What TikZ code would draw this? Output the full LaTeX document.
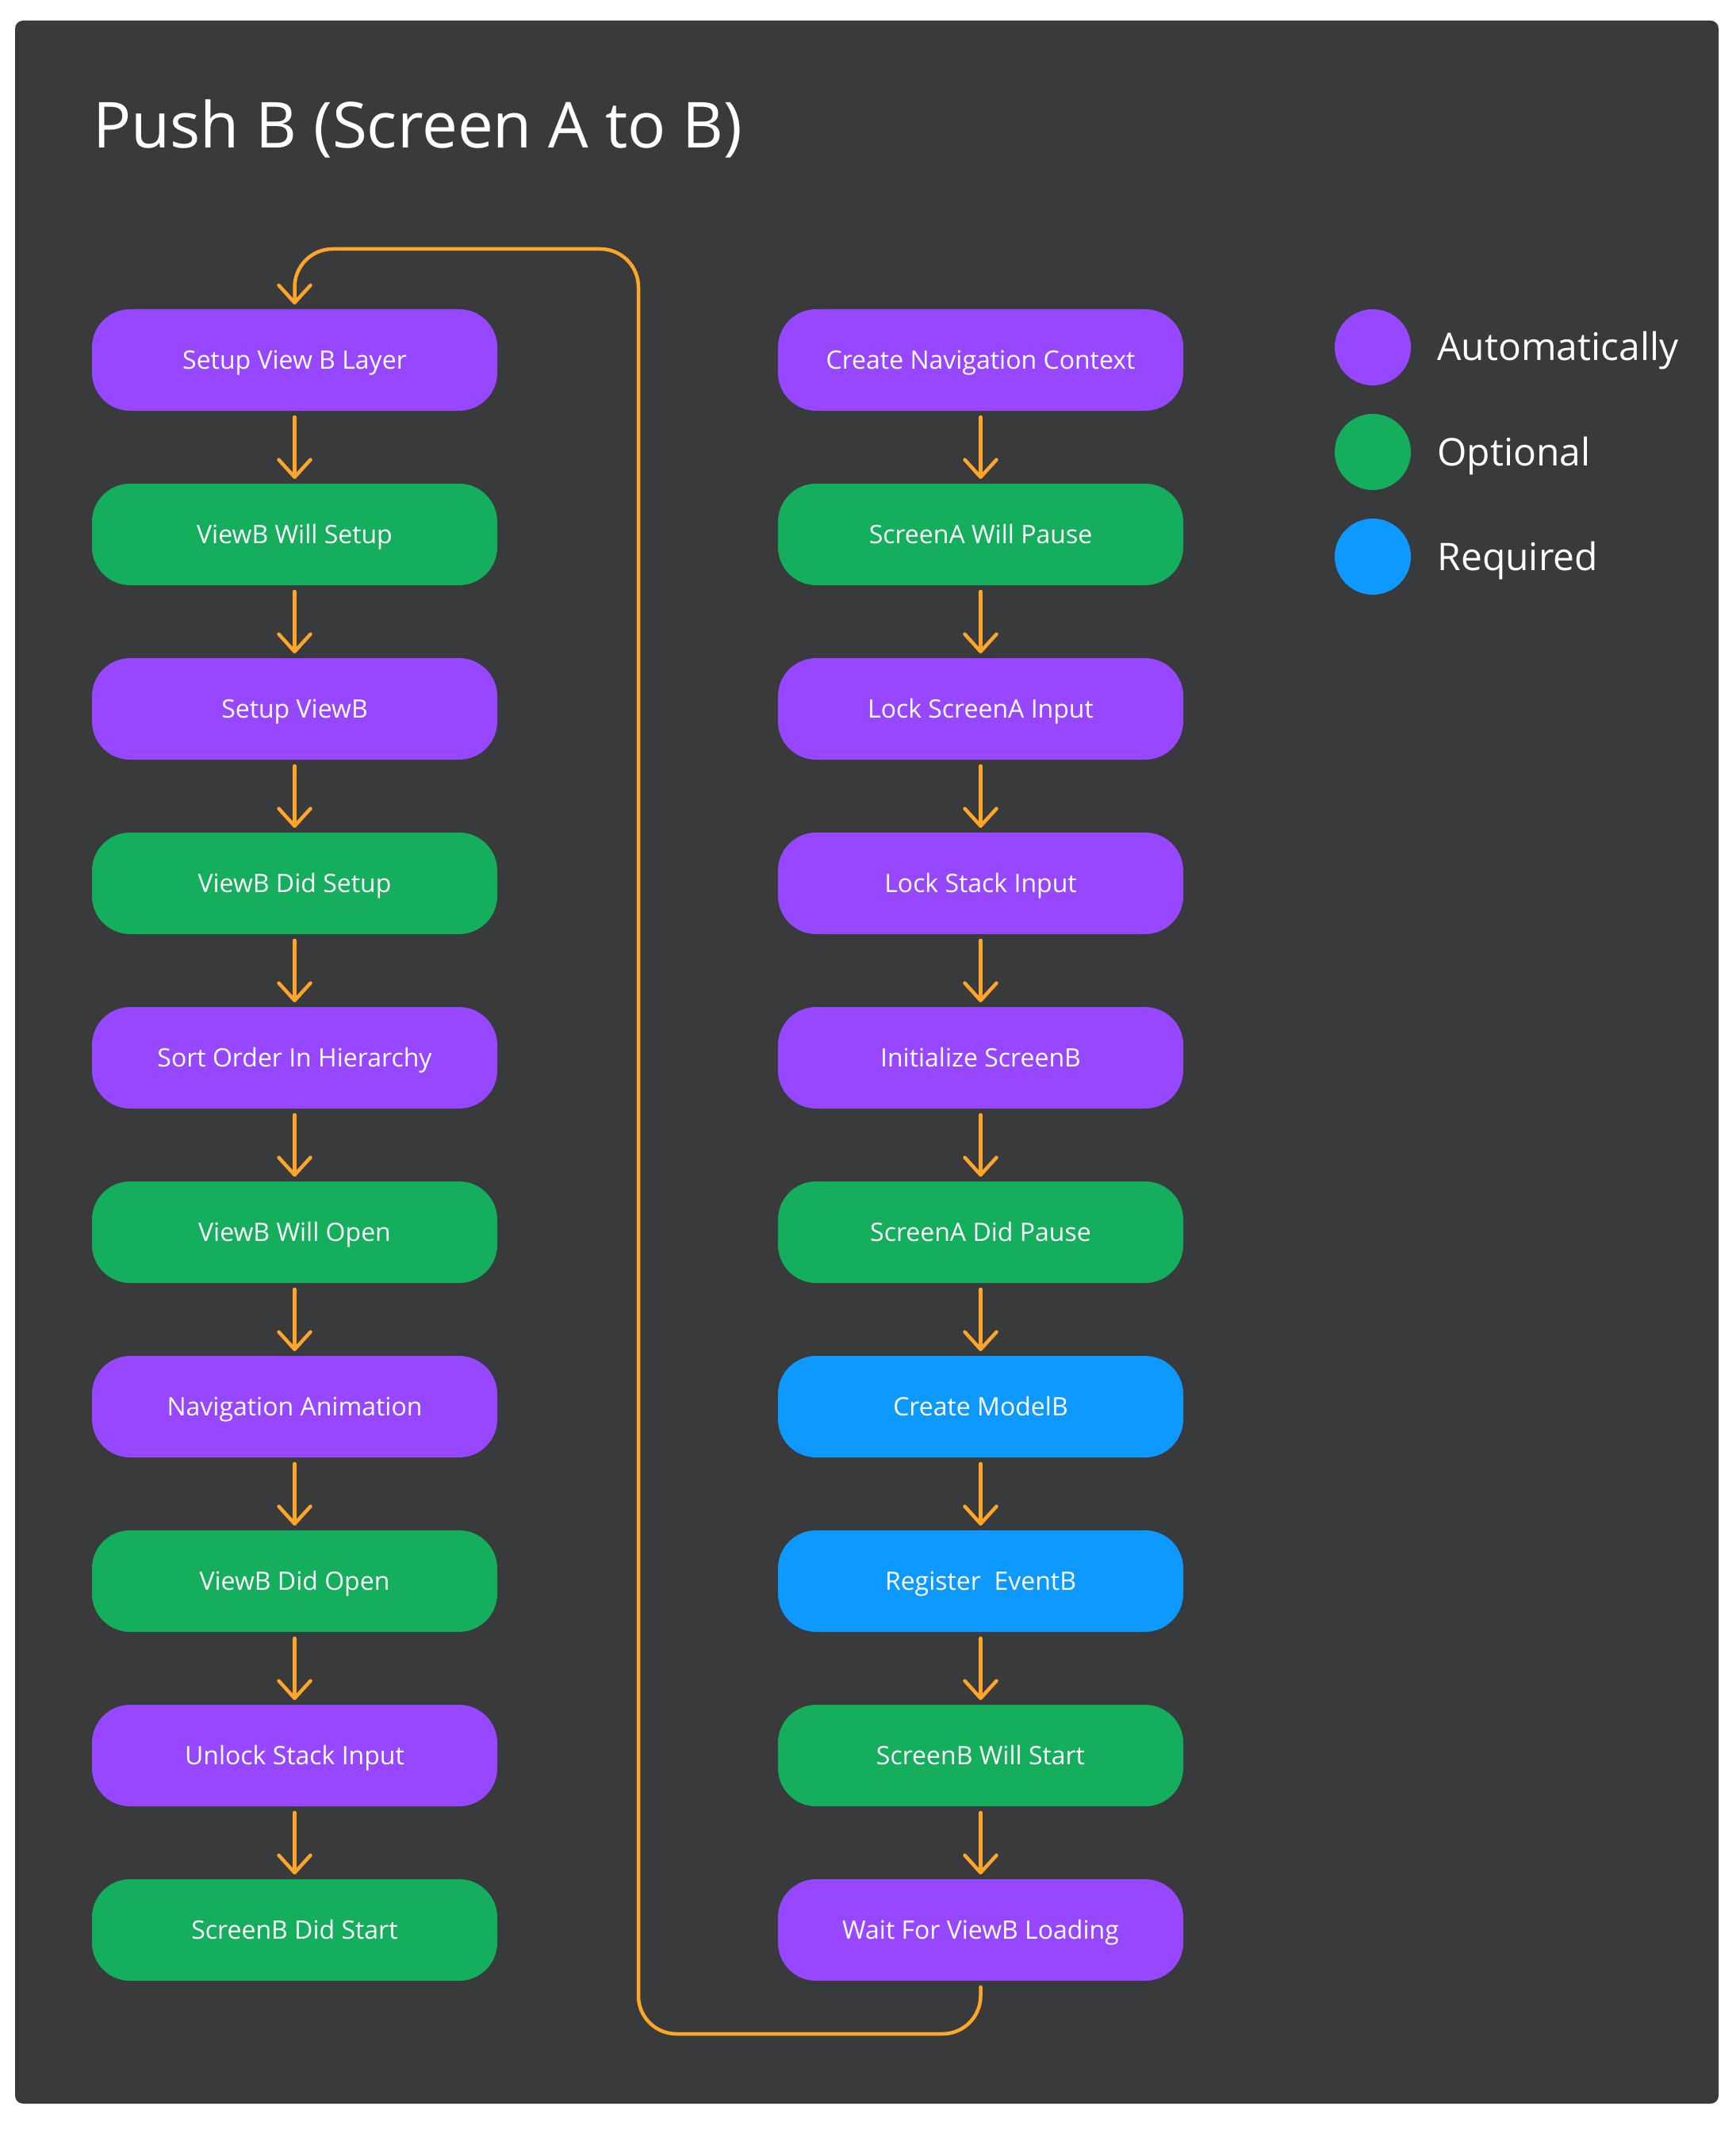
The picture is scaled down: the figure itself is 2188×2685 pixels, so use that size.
\documentclass[tikz,border=0pt]{standalone}
\usepackage{fontspec}
\setmainfont{Open Sans}
\usepackage{xcolor}
\usetikzlibrary{positioning}
\usetikzlibrary{arrows.meta}
\definecolor{bgdark}{HTML}{383A3C}
\definecolor{autopurple}{HTML}{9747FF}
\definecolor{optgreen}{HTML}{14AE5C}
\definecolor{reqblue}{HTML}{0D99FF}
\definecolor{floworange}{HTML}{FFA629}

\begin{document}
\begin{tikzpicture}[x=0.5pt, y=-0.5pt]
    % coordinates in px of the sheet, y goes down
    \tikzset{>={Straight Barb[length=11pt, width=20pt, round]}}
    \tikzstyle{stepbox}=[rounded corners=24pt, minimum width=255.5pt, minimum height=64pt, inner sep=0pt, outer sep=0pt, text=white, font=\fontsize{16}{19}\selectfont, text height=11.4pt, text depth=0pt]
    \tikzstyle{autobox}=[stepbox, fill=autopurple]
    \tikzstyle{optbox}=[stepbox, fill=optgreen]
    \tikzstyle{reqbox}=[stepbox, fill=reqblue]
    \tikzstyle{flow}=[floworange, ->, line width=2.25pt, line cap=round, shorten <=4pt, shorten >=3pt]
    \tikzstyle{every edge}=[flow, draw]
    \tikzstyle{keydot}=[circle, minimum size=48pt, inner sep=0pt, outer sep=0pt]
    \tikzstyle{keytext}=[text=white, inner sep=0pt, font=\fontsize{24}{29}\selectfont, text height=17pt, text depth=0pt]

    \useasboundingbox (0,0) rectangle (2188,2685);
    \fill[bgdark, rounded corners=5pt] (19,26) rectangle (2167,2653);

    \node[anchor=base west, text=white, inner sep=0pt, font=\fontsize{40}{48}\selectfont] (title) at (117,187) {Push B (Screen A to B)};

    % left column
    \node[autobox] (L1) at (371.5,454) {Setup View B Layer};
    \node[optbox, below=46pt of L1] (L2) {ViewB Will Setup};
    \draw (L1) edge (L2);
    \node[autobox, below=46pt of L2] (L3) {Setup ViewB};
    \draw (L2) edge (L3);
    \node[optbox, below=46pt of L3] (L4) {ViewB Did Setup};
    \draw (L3) edge (L4);
    \node[autobox, below=46pt of L4] (L5) {Sort Order In Hierarchy};
    \draw (L4) edge (L5);
    \node[optbox, below=46pt of L5] (L6) {ViewB Will Open};
    \draw (L5) edge (L6);
    \node[autobox, below=46pt of L6] (L7) {Navigation Animation};
    \draw (L6) edge (L7);
    \node[optbox, below=46pt of L7] (L8) {ViewB Did Open};
    \draw (L7) edge (L8);
    \node[autobox, below=46pt of L8] (L9) {Unlock Stack Input};
    \draw (L8) edge (L9);
    \node[optbox, below=46pt of L9] (L10) {ScreenB Did Start};
    \draw (L9) edge (L10);

    % right column
    \node[autobox, right=177pt of L1] (R1) {Create Navigation Context};
    \node[optbox, below=46pt of R1] (R2) {ScreenA Will Pause};
    \draw (R1) edge (R2);
    \node[autobox, below=46pt of R2] (R3) {Lock ScreenA Input};
    \draw (R2) edge (R3);
    \node[autobox, below=46pt of R3] (R4) {Lock Stack Input};
    \draw (R3) edge (R4);
    \node[autobox, below=46pt of R4] (R5) {Initialize ScreenB};
    \draw (R4) edge (R5);
    \node[optbox, below=46pt of R5] (R6) {ScreenA Did Pause};
    \draw (R5) edge (R6);
    \node[reqbox, below=46pt of R6] (R7) {Create ModelB};
    \draw (R6) edge (R7);
    \node[reqbox, below=46pt of R7] (R8) {Register\ \ EventB};
    \draw (R7) edge (R8);
    \node[optbox, below=46pt of R8] (R9) {ScreenB Will Start};
    \draw (R8) edge (R9);
    \node[autobox, below=46pt of R9] (R10) {Wait For ViewB Loading};
    \draw (R9) edge (R10);

    % loop back to the left column
    \coordinate (loopB) at (805,2565);
    \coordinate (loopT) at (805,314);
    \draw[flow, rounded corners=24pt] (R10.south) -- (R10.south |- loopB) -- (loopB) -- (loopT) -- (L1.north |- loopT) -- (L1.north);

    % legend
    \node[keydot, fill=autopurple] (K1) at (1731,438) {};
    \node[keytext, right=16.5pt of K1] (T1) {Automatically};
    \node[keydot, fill=optgreen] (K2) at (1731,570) {};
    \node[keytext, right=16.5pt of K2] (T2) {Optional};
    \node[keydot, fill=reqblue] (K3) at (1731,702) {};
    \node[keytext, right=16.5pt of K3] (T3) {Required};
\end{tikzpicture}
\end{document}
